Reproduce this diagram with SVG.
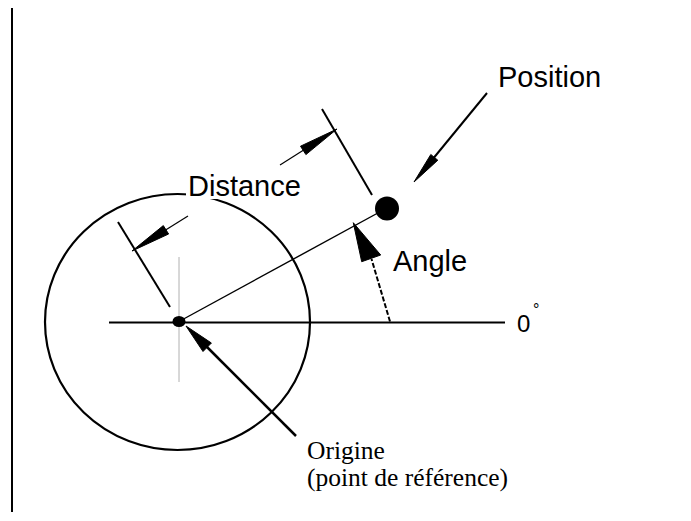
<svg xmlns="http://www.w3.org/2000/svg" width="691" height="521" viewBox="0 0 691 521">
<style>
.ln{stroke:#000;fill:none;stroke-linecap:butt}
.head{fill:#000;stroke:#000;stroke-width:1;stroke-linejoin:miter}
.sans{font-family:"Liberation Sans",Arial,sans-serif;fill:#000}
.serif{font-family:"Liberation Serif","Times New Roman",serif;fill:#000}
</style>
<rect x="0" y="0" width="691" height="521" fill="#fff"/>
<line class="ln" x1="12" y1="8" x2="12" y2="512" stroke-width="2"/>
<g id="circle">
<ellipse cx="177.5" cy="322" rx="132.5" ry="128" class="ln" stroke-width="2.2"/>
</g>
<g id="axis">
<line x1="179" y1="257" x2="179" y2="382" stroke="#b0b0b0" stroke-width="1"/>
<line class="ln" x1="109" y1="322.5" x2="505" y2="322.5" stroke-width="2"/>
<text class="sans" x="517" y="332" font-size="24">0</text>
<text class="sans" x="533" y="315" font-size="16">°</text>
</g>
<g id="radius">
<line class="ln" x1="179" y1="321.5" x2="387" y2="208" stroke-width="1.4"/>
</g>
<g id="origin">
<ellipse cx="179" cy="321.5" rx="6.5" ry="5.5" fill="#000"/>
<text class="serif" x="307" y="459" font-size="25.5">Origine</text>
<text class="serif" x="307" y="486" font-size="25.5">(point de référence)</text>
</g>
<g id="position">
<circle cx="387" cy="208.5" r="12" fill="#000"/>
<text class="sans" x="498" y="87" font-size="29">Position</text>
</g>
<g id="distance">
<line class="ln" x1="118" y1="222" x2="170" y2="307" stroke-width="2"/>
<line class="ln" x1="322" y1="109" x2="372" y2="195" stroke-width="2"/>
<rect x="186" y="170" width="118" height="29" fill="#fff"/>
<text class="sans" x="188" y="196" font-size="29">Distance</text>
</g>
<g id="angle">
<text class="sans" x="393" y="271" font-size="29">Angle</text>
</g>
<g id="connectors">
<line class="ln" x1="188" y1="216" x2="160" y2="233.5" stroke-width="1.2"/>
<polygon class="head" points="132,251 168.6,234 163.3,225.6"/>
<line class="ln" x1="280" y1="165" x2="308" y2="147.3" stroke-width="1.2"/>
<polygon class="head" points="337,129 305.9,154.6 300.5,146.2"/>
<line class="ln" x1="487" y1="93" x2="432" y2="160" stroke-width="2"/>
<polygon class="head" points="414,182 437.8,160.2 430.8,154.5"/>
<line class="ln" x1="296" y1="436" x2="205" y2="345" stroke-width="2.5"/>
<polygon class="head" points="186,326 211.4,343 203,351.5"/>
<line class="ln" x1="390" y1="321.5" x2="371.5" y2="259" stroke-width="2" stroke-dasharray="5 2"/>
<polygon class="head" points="353.3,222.7 361.7,261.7 380.7,255"/>
</g>
</svg>
